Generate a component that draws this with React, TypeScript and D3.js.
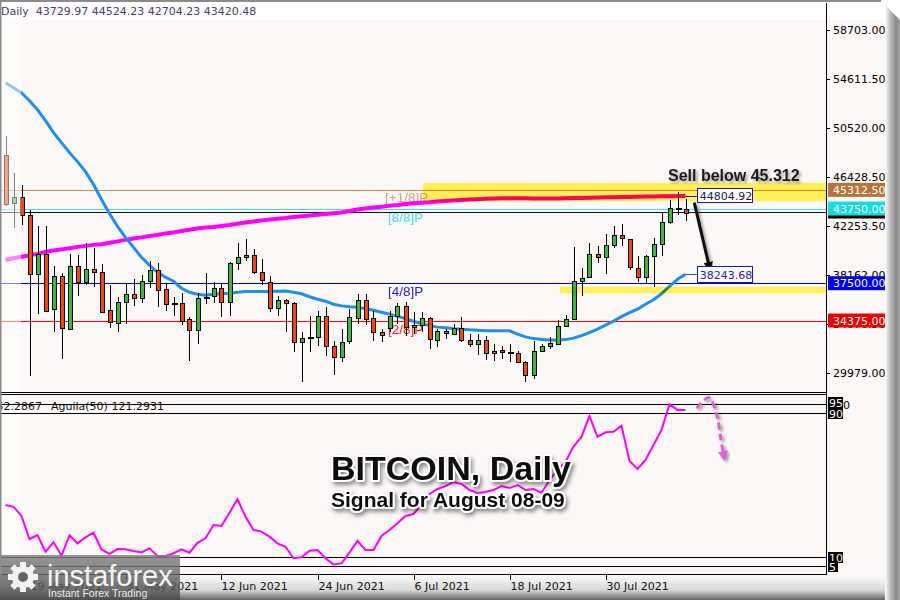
import * as d3 from "d3";

const W = 900;
const H = 600;

// daily candles, 16 May 2021 .. 9 Aug 2021
const startDate = new Date(Date.UTC(2021, 4, 16));
const opens = [48266, 44232, 44734, 43230, 38304, 39974, 35297, 38078, 33712, 38972, 37603, 38722, 38471, 35214, 34212, 35965, 36633, 36299, 37688, 38638, 37051, 35866, 35882, 34488, 33595, 36350, 36434, 37135, 35933, 39222, 39724, 39891, 38438, 37636, 35465, 36133, 35882, 32600, 32985, 33043, 34764, 32226, 31307, 32600, 34630, 36100, 34547, 33378, 33703, 34714, 35548, 33795, 33987, 34547, 32760, 33486, 33294, 33762, 32760, 32459, 32760, 31841, 31900, 31707, 31649, 30898, 29812, 31791, 32226, 32459, 33928, 34488, 37688, 37970, 39916, 39639, 40667, 41502, 41168, 38805, 38053, 39774, 40809, 42646, 43815, 43729.97];
const highs = [49794, 46738, 45761, 43590, 42254, 42254, 38939, 38387, 39916, 39832, 40834, 40417, 39139, 37327, 36382, 37411, 37828, 38162, 39356, 39222, 37553, 36325, 36717, 34630, 36717, 38329, 37603, 37494, 39306, 40893, 41227, 40392, 39498, 38103, 36434, 36217, 35933, 33378, 34714, 35181, 35465, 32651, 33653, 35323, 36575, 36575, 35181, 33653, 35181, 35882, 35933, 35047, 35047, 34630, 33653, 33653, 34071, 34630, 33236, 33236, 33093, 32400, 32259, 32400, 31841, 31007, 32676, 32400, 32960, 34429, 34822, 40558, 38805, 40893, 40609, 41644, 42279, 42421, 41226, 39774, 39832, 41310, 43398, 44508, 45117, 44524.23];
const lows = [43949, 42145, 42337, 29754, 34906, 35098, 33428, 31148, 33650, 36434, 37327, 37185, 35050, 33737, 33378, 34070, 35601, 35882, 37076, 35515, 35181, 34764, 33987, 31007, 32400, 35740, 35882, 34630, 34764, 38605, 39356, 38245, 37327, 35098, 34764, 33378, 31758, 29253, 31758, 32259, 31425, 29837, 30923, 32400, 34071, 33987, 32676, 32543, 33428, 34071, 33098, 33235, 33378, 31983, 32127, 32793, 33235, 32543, 32127, 31482, 31090, 31007, 31148, 30898, 30814, 29253, 29478, 31707, 31983, 32400, 33878, 34430, 36434, 37900, 39222, 38246, 40475, 40609, 38605, 37603, 37411, 37218, 39774, 42421, 43172, 42704.23];
const closes = [44174, 44734, 43230, 38304, 39974, 35240, 38078, 33712, 38972, 37603, 38722, 38438, 35131, 34212, 35965, 36633, 36299, 37688, 38638, 36935, 35798, 35866, 34346, 33595, 36300, 36350, 37135, 35933, 39222, 39724, 39891, 38438, 37744, 35465, 36100, 35882, 32626, 32933, 32985, 34764, 32226, 31290, 32600, 34630, 36100, 34547, 33378, 33098, 34714, 35548, 33795, 33987, 34547, 32760, 33486, 33294, 33762, 32760, 32459, 32760, 31707, 31707, 31707, 31707, 30872, 29812, 31791, 32226, 32459, 33928, 34488, 37688, 37970, 39916, 39639, 40667, 41502, 41226, 38805, 38053, 39774, 40809, 42646, 43815, 43815, 43420.48];

// moving averages
const maBlue = [54278, 53860, 53443, 52775, 52023, 51105, 50103, 49268, 48433, 47681, 46846, 45761, 44508, 43339, 42254, 41335, 40500, 39665, 38997, 38413, 37995, 37661, 37077, 36743, 36576, 36492, 36576, 36617, 36659, 36743, 36808, 36808, 36808, 36808, 36826, 36851, 36743, 36617, 36367, 36158, 35991, 35741, 35599, 35532, 35490, 35365, 35240, 35073, 34906, 34739, 34530, 34316, 34112, 33945, 33820, 33761, 33695, 33653, 33594, 33552, 33527, 33519, 33510, 33510, 33235, 33001, 32859, 32792, 32734, 32734, 32776, 32901, 33110, 33360, 33653, 33987, 34321, 34697, 35031, 35323, 35741, 36117, 36617, 37244, 37828, 38243.68];
const maMagenta = [39440, 39582, 39707, 39832, 39957, 40108, 40233, 40333, 40433, 40542, 40625, 40709, 40767, 40892, 41001, 41126, 41235, 41335, 41444, 41544, 41669, 41753, 41878, 41978, 42086, 42170, 42212, 42295, 42379, 42479, 42587, 42671, 42754, 42838, 42896, 42963, 43047, 43114, 43172, 43239, 43297, 43364, 43422, 43548, 43673, 43757, 43840, 43907, 43982, 44049, 44132, 44191, 44241, 44283, 44341, 44383, 44425, 44466, 44508, 44533, 44566, 44592, 44608, 44617, 44617, 44608, 44592, 44592, 44592, 44592, 44608, 44625, 44642, 44658, 44675, 44692, 44700, 44708, 44725, 44742, 44759, 44767, 44780, 44790, 44798, 44804.92];

// Aguila(50) oscillator
const aguila = [38.9, 37.9, 32.8, 20, 22.2, 12.9, 18.2, 10.7, 22.1, 17.6, 20.9, 23.5, 14.2, 11.7, 14.4, 14.3, 13.3, 12.5, 14.8, 10.6, 10.6, 12.1, 14.3, 12.4, 17.9, 20.4, 27.8, 27.2, 34.6, 42.1, 32.4, 25, 24.1, 21.3, 17.6, 15.7, 9.3, 9.8, 13.5, 13.9, 9.3, 5.9, 6.5, 12.4, 18.9, 13.9, 13.9, 21.7, 25, 28.7, 32.8, 33.9, 38.9, 45, 47.8, 49.4, 51.7, 50.6, 47.2, 45.6, 46.1, 47.2, 49.4, 48.3, 50, 47.2, 47.8, 45.6, 52.8, 58.3, 62.8, 71.3, 76.7, 88.3, 76.8, 79.3, 79.6, 82.9, 63.3, 58.9, 63.9, 72.2, 80.6, 94.8, 91.7, 91.7];

const priceTicks = [58703, 54611.5, 50520, 46428.5, 42253.5, 38162, 34070.5, 29979];
const dateTicks = ["2021-05-19", "2021-05-31", "2021-06-12", "2021-06-24", "2021-07-06", "2021-07-18", "2021-07-30"];
const levelPrices = [45312.5, 43750, 37500, 34375];
const levelNames = ["[+1/8]P", "[8/8]P", "[4/8]P", "[2/8]P"];
const oscLevels = [95, 90, 10, 5];

const levelColors = ["#d98a48", "#3fe0e6", "#0000cc", "#ff0000"];
const levelText = ["#d9a274", "#45e2f0", "#2323dd", "#ff2020"];
const levelBox = ["#b8733a", "#12dede", "#0000f0", "#f00000"];

const day = 86400000;
const dateAt = (i: number) => new Date(startDate.getTime() + i * day);

export default function App() {
  const n = closes.length;
  const x = d3.scaleUtc().domain([startDate, dateAt(n - 1)]).range([5.5, 685.5]);
  const xi = (i: number) => x(dateAt(i));
  const y = d3.scaleLinear().domain([29979, 58703]).range([373, 30]);
  const yo = d3.scaleLinear().domain([0, 100]).range([575, 395]);
  const crisp = (v: number) => Math.round(v) + 0.5;

  const plotR = 826;
  const fmt = d3.format(".2f");
  const dFmt = d3.utcFormat("%-d %b %Y");

  const lineP = d3.line<number>().x((_, i) => xi(i)).y((d) => y(d));
  const lineO = d3.line<number>().x((_, i) => xi(i)).y((d) => yo(d));

  const font = "DejaVu Sans, Tahoma, sans-serif";
  const arial = "Liberation Sans, Arial, sans-serif";

  // annotation anchors in data units
  const boxI = 86.4;
  const sellFrom = [86.1, 44250];
  const sellTo = [88.0, 38800];
  const pinkPts: [number, number][] = [[86.4, 92.6], [87.9, 98.6], [88.9, 89.0], [89.4, 76], [89.8, 66]];

  const pinkPath = d3.line<[number, number]>().x((d) => xi(d[0])).y((d) => yo(d[1])).curve(d3.curveCatmullRom)(pinkPts) || "";

  const gearTeeth = d3.range(8);

  return (
    <svg width={W} height={H} style={{ display: "block", position: "absolute", left: 0, top: 0 }}>
      <defs>
        <linearGradient id="bottomBar" x1="0" y1="0" x2="0" y2="1">
          <stop offset="0" stopColor="#fbfbfb" />
          <stop offset="0.6" stopColor="#d8d8d8" />
          <stop offset="1" stopColor="#646464" />
        </linearGradient>
        <linearGradient id="rightBevel" x1="0" y1="0" x2="1" y2="0">
          <stop offset="0" stopColor="#ffffff" />
          <stop offset="0.35" stopColor="#bdbdbd" />
          <stop offset="0.75" stopColor="#8a8a8a" />
          <stop offset="1" stopColor="#a8a8a8" />
        </linearGradient>
        <linearGradient id="logoBg" x1="0" y1="0" x2="0" y2="1">
          <stop offset="0" stopColor="#808080" />
          <stop offset="1" stopColor="#4a4a4a" />
        </linearGradient>
        <filter id="shadow" x="-20%" y="-40%" width="140%" height="180%">
          <feDropShadow dx="2" dy="2" stdDeviation="1.5" floodColor="#000" floodOpacity="0.4" />
        </filter>
        <filter id="titleShadow" x="-10%" y="-30%" width="120%" height="160%">
          <feDropShadow dx="2" dy="3" stdDeviation="2" floodColor="#000" floodOpacity="0.45" />
        </filter>
        <marker id="arrowBlack" viewBox="0 0 10 10" refX="6" refY="5" markerWidth="3.2" markerHeight="3.2" orient="auto">
          <path d="M0,0 L10,5 L0,10 z" fill="#111" />
        </marker>
        <marker id="arrowPink" viewBox="0 0 10 10" refX="5" refY="5" markerWidth="3.4" markerHeight="3.4" orient="auto">
          <path d="M0,0 L10,5 L0,10 z" fill="#e060d0" />
        </marker>
        <clipPath id="mainClip">
          <rect x={0} y={20} width={plotR} height={372} />
        </clipPath>
      </defs>

      {/* background */}
      <rect x={0} y={0} width={W} height={H} fill="#fcf8f7" />
      <rect x={0} y={0} width={W} height={20} fill="#ffffff" />

      {/* header */}
      <text x={1} y={15} fontFamily={font} fontSize={11} fill="#4b3b6b" xmlSpace="preserve">
        {`Daily  ${[opens[n - 1], highs[n - 1], lows[n - 1], closes[n - 1]].map(fmt).join(" ")}`}
      </text>

      <g clipPath="url(#mainClip)">
        {/* murrey levels */}
        {levelPrices.map((p, k) => (
          <line key={k} x1={0} x2={plotR} y1={crisp(y(p))} y2={crisp(y(p))} stroke={levelColors[k]} strokeWidth={1} />
        ))}
        {levelNames.map((t, k) => (
          <text key={t} x={k === 0 ? 385 : 388} y={y(levelPrices[k]) + (k === 0 ? 12 : 13)} fontFamily={arial} fontSize={13.5} fill={levelText[k]}>
            {t}
          </text>
        ))}
        {/* current price line */}
        <line x1={0} x2={plotR} y1={crisp(y(closes[n - 1]))} y2={crisp(y(closes[n - 1]))} stroke="#111" strokeWidth={1} />

        {/* moving averages */}
        <path d={lineP(maMagenta) || ""} fill="none" stroke="#ff00ff" strokeWidth={4} />
        <path d={lineP(maBlue) || ""} fill="none" stroke="#1e8ff0" strokeWidth={3} />

        {/* candles */}
        {closes.map((c, i) => {
          const o = opens[i];
          const cx = crisp(xi(i));
          const top = Math.min(y(o), y(c));
          const bot = Math.max(y(o), y(c));
          const up = c > o;
          return (
            <g key={i} shapeRendering="crispEdges">
              <line x1={cx} x2={cx} y1={y(highs[i])} y2={y(lows[i])} stroke="#000" strokeWidth={1} />
              {o === c ? (
                <line x1={cx - 3} x2={cx + 3} y1={crisp(y(c))} y2={crisp(y(c))} stroke="#000" strokeWidth={2} />
              ) : (
                <rect x={cx - 2} y={Math.round(top) + 0.5} width={4} height={Math.max(2, Math.round(bot - top))} fill={up ? "#2fbf2f" : "#ff4400"} stroke="#000" strokeWidth={1} />
              )}
            </g>
          );
        })}

        {/* yellow zones */}
        <rect x={xi(52.2)} y={y(45903)} width={plotR - xi(52.2)} height={y(44366) - y(45903)} fill="#fff05a" style={{ mixBlendMode: "multiply" }} />
        <rect x={xi(69.3)} y={y(37185)} width={plotR - xi(69.3)} height={y(36659) - y(37185)} fill="#fff05a" style={{ mixBlendMode: "multiply" }} />
      </g>

      {/* sell arrow + text */}
      <line x1={xi(sellFrom[0])} y1={y(sellFrom[1])} x2={xi(sellTo[0])} y2={y(sellTo[1])} stroke="#111" strokeWidth={3} markerEnd="url(#arrowBlack)" filter="url(#shadow)" />
      <text x={668} y={181} fontFamily={arial} fontWeight="bold" fontSize={16} fill="#1e1e1e" filter="url(#shadow)">
        Sell below 45.312
      </text>

      {/* MA end labels */}
      <line x1={xi(n - 1)} x2={xi(boxI)} y1={crisp(y(maMagenta[n - 1]))} y2={crisp(y(maMagenta[n - 1]))} stroke="#1a1a70" />
      <rect x={crisp(xi(boxI))} y={crisp(y(maMagenta[n - 1]) - 8)} width={55} height={14} fill="#fff" stroke="#1515d0" />
      <text x={xi(boxI) + 3} y={y(maMagenta[n - 1]) + 4} fontFamily={font} fontSize={11} fill="#1a1a50">
        {fmt(maMagenta[n - 1])}
      </text>
      <line x1={xi(n - 1)} x2={xi(boxI)} y1={crisp(y(maBlue[n - 1]))} y2={crisp(y(maBlue[n - 1]))} stroke="#3050e0" />
      <rect x={crisp(xi(boxI))} y={crisp(y(maBlue[n - 1]) - 8)} width={55} height={16} fill="#fff" stroke="#1515d0" />
      <text x={xi(boxI) + 3} y={y(maBlue[n - 1]) + 4.5} fontFamily={font} fontSize={11} fill="#2020d0">
        {fmt(maBlue[n - 1])}
      </text>

      {/* left fade */}
      <rect x={0} y={20} width={21} height={555} fill="#ffffff" opacity={0.5} />

      {/* pane borders */}
      <line x1={0} x2={plotR} y1={392.5} y2={392.5} stroke="#000" />
      <line x1={0} x2={plotR} y1={394.5} y2={394.5} stroke="#000" />
      <line x1={0} x2={plotR} y1={574.5} y2={574.5} stroke="#000" />
      {oscLevels.map((v) => (
        <line key={v} x1={0} x2={plotR} y1={crisp(yo(v))} y2={crisp(yo(v))} stroke="#000" />
      ))}

      {/* oscillator */}
      <path d={lineO(aguila) || ""} fill="none" stroke="#ff00ff" strokeWidth={2} />
      <path d={pinkPath} fill="none" stroke="#e060d0" strokeWidth={3} strokeDasharray="7,4" markerEnd="url(#arrowPink)" filter="url(#shadow)" />
      <text x={42} y={410} textAnchor="end" fontFamily={font} fontSize={11} fill="#111">52.2867</text>
      <text x={51} y={410} fontFamily={font} fontSize={11} fill="#111">Aguila(50) 121.2931</text>

      {/* title */}
      <g filter="url(#titleShadow)">
        <text x={331} y={480} fontFamily={arial} fontWeight="bold" fontSize={34} fill="#111" stroke="#fff" strokeWidth={4} paintOrder="stroke" strokeLinejoin="round">
          BITCOIN, Daily
        </text>
        <text x={331} y={507} fontFamily={arial} fontWeight="bold" fontSize={21} fill="#111" stroke="#fff" strokeWidth={4} paintOrder="stroke" strokeLinejoin="round">
          Signal for August 08-09
        </text>
      </g>

      {/* right price axis */}
      <line x1={plotR + 0.5} x2={plotR + 0.5} y1={3} y2={575} stroke="#000" />
      {priceTicks.map((p) => (
        <g key={p}>
          <line x1={plotR} x2={plotR + 4} y1={crisp(y(p))} y2={crisp(y(p))} stroke="#000" />
          <text x={833} y={y(p) + 4} fontFamily={font} fontSize={11} fill="#000">
            {fmt(p)}
          </text>
        </g>
      ))}
      <rect x={828} y={y(closes[n - 1]) - 9} width={63} height={15} fill="#000" />
      {levelPrices.map((p, k) => (
        <g key={p}>
          <rect x={828} y={y(p) - 7} width={63} height={14} fill={levelBox[k]} />
          <text x={833} y={y(p) + 4} fontFamily={font} fontSize={11} fill="#fff">
            {fmt(p)}
          </text>
        </g>
      ))}
      <text x={829} y={409} fontFamily={font} fontSize={11} fill="#000">100</text>
      {oscLevels.map((v) => (
        <g key={v}>
          <rect x={828} y={yo(v) - (v === 95 ? 7 : 5)} width={v === 5 ? 10 : 15} height={11} fill="#000" />
          <text x={829} y={yo(v) + (v === 95 ? 3 : 5)} fontFamily={font} fontSize={11} fill="#fff">
            {v}
          </text>
        </g>
      ))}

      {/* bottom date axis */}
      <rect x={0} y={575} width={885} height={25} fill="url(#bottomBar)" />
      {dateTicks.map((d) => {
        const dt = new Date(d + "T00:00:00Z");
        const tx = Math.round(x(dt)) + 0.5;
        return (
          <g key={d}>
            <line x1={tx} x2={tx} y1={575} y2={580} stroke="#000" />
            <text x={tx} y={590} fontFamily={font} fontSize={11} fill="#111">
              {dFmt(dt)}
            </text>
          </g>
        );
      })}

      {/* logo */}
      <g>
        <rect x={0} y={555} width={180} height={45} fill="url(#logoBg)" opacity={0.82} />
        <g transform="translate(23,577)" fill="#f2f2f2">
          <circle r={11} />
          {gearTeeth.map((k) => (
            <rect key={k} x={-3} y={-15} width={6} height={7} transform={`rotate(${k * 45})`} />
          ))}
          <circle r={5} fill="#666" />
        </g>
        <text x={47} y={586} fontFamily={arial} fontSize={29} fill="#f4f4f4">instaforex</text>
        <text x={48} y={597} fontFamily={arial} fontSize={10.5} fill="#e8e8e8">Instant Forex Trading</text>
      </g>

      {/* frame */}
      <rect x={885} y={0} width={15} height={H} fill="url(#rightBevel)" />
      <polygon points="880,0 900,0 900,20" fill="#ffffff" />
      <rect x={0} y={0} width={881} height={2} fill="#8c8c8c" />
      <rect x={0} y={0} width={1.5} height={575} fill="#8c8c8c" />
    </svg>
  );
}
